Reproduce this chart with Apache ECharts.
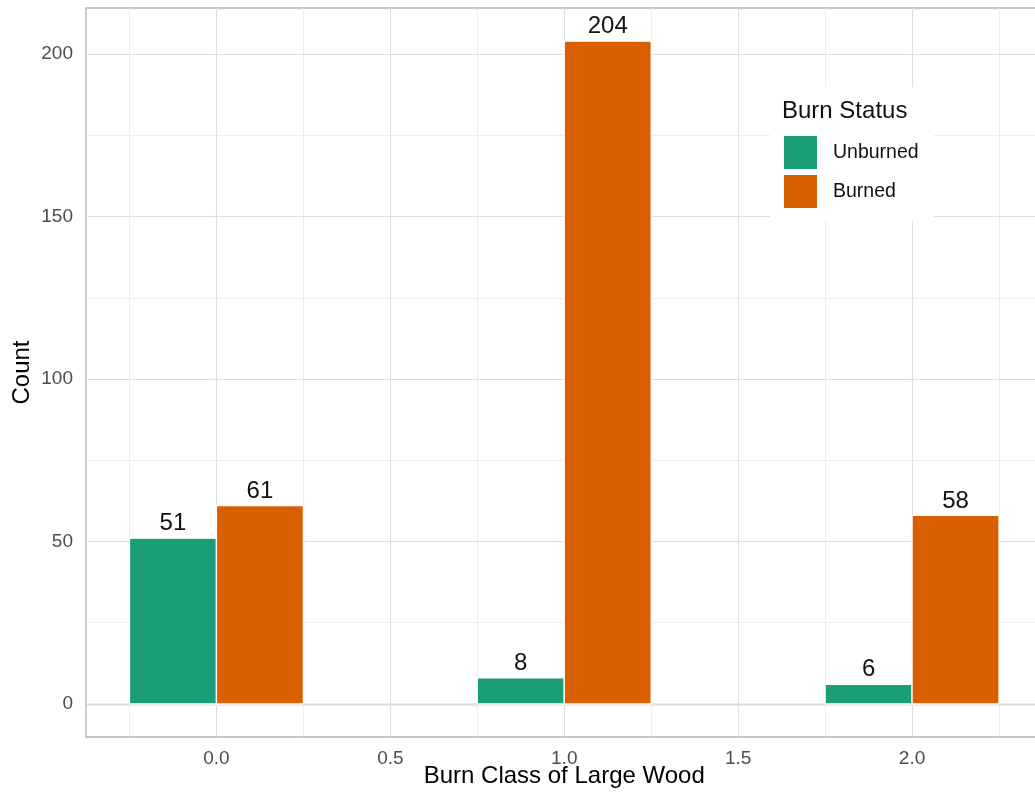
<!DOCTYPE html>
<html>
<head>
<meta charset="utf-8">
<script src="https://cdn.jsdelivr.net/npm/echarts@6/dist/echarts.min.js"></script>
<style>
  html, body { margin: 0; padding: 0; background: #fff; }
  #chart { width: 1035px; height: 798px; }
</style>
</head>
<body>
<div id="chart"></div>
<script>
// ---- data ----
const burnClass = [0, 1, 2];
const unburned = [51, 8, 6];
const burned = [61, 204, 58];
const seriesNames = ['Unburned', 'Burned'];
const xTickValues = [0, 0.5, 1, 1.5, 2];
const xMinorValues = [-0.25, 0.25, 0.75, 1.25, 1.75, 2.25];
const yTickValues = [0, 50, 100, 150, 200];
const yMinorValues = [25, 75, 125, 175];

const FONT = "'Liberation Sans', Arial, Helvetica, sans-serif";
const colors = ['#1B9E77', '#D95F02'];
const barW = 0.25;

const chart = echarts.init(document.getElementById('chart'), null, { renderer: 'canvas' });

function barSeries(name, values, offset, color) {
  return {
    name: name,
    type: 'custom',
    z: 10,
    itemStyle: { color: color },
    data: burnClass.map((x, i) => [x, values[i]]),
    renderItem: function (params, api) {
      const x = api.value(0), v = api.value(1);
      const p0 = api.coord([x + offset - barW / 2, v]);
      const p1 = api.coord([x + offset + barW / 2, 0]);
      return {
        type: 'group',
        children: [
          {
            type: 'rect',
            shape: { x: p0[0], y: p0[1], width: p1[0] - p0[0], height: p1[1] - p0[1] },
            style: { fill: color, stroke: '#ffffff', lineWidth: 1.3 }
          },
          {
            type: 'text',
            style: {
              text: String(v),
              x: (p0[0] + p1[0]) / 2,
              y: p0[1] - 14.5,
              textAlign: 'center',
              textVerticalAlign: 'middle',
              fill: '#111111',
              font: '24px ' + FONT
            }
          }
        ]
      };
    }
  };
}

const gridLines = []
  .concat(xTickValues.map(v => ({ xAxis: v, lineStyle: { color: '#dedede', width: 1.1, type: 'solid' } })))
  .concat(xMinorValues.map(v => ({ xAxis: v, lineStyle: { color: '#e9e9e9', width: 0.8, type: 'solid' } })))
  .concat(yTickValues.map(v => ({ yAxis: v, lineStyle: { color: '#dedede', width: 1.1, type: 'solid' } })))
  .concat(yMinorValues.map(v => ({ yAxis: v, lineStyle: { color: '#e9e9e9', width: 0.8, type: 'solid' } })));

const option = {
  animation: false,
  backgroundColor: '#ffffff',
  textStyle: { fontFamily: FONT },
  grid: {
    left: 86, top: 8, right: -7.5, bottom: 61,
    show: true, borderColor: '#b3b3b3', borderWidth: 1.3,
    backgroundColor: 'transparent',
    containLabel: false,
    outerBoundsMode: 'none'
  },
  xAxis: {
    type: 'value',
    min: -0.375, max: 2.375,
    name: 'Burn Class of Large Wood',
    nameLocation: 'middle',
    nameGap: 27,
    nameMoveOverlap: false,
    nameTextStyle: { fontSize: 24, color: '#000000', fontFamily: FONT },
    axisLine: { show: true, lineStyle: { color: '#b3b3b3', width: 1.3 } },
    axisTick: { show: true, length: 6, customValues: xTickValues, lineStyle: { color: '#b3b3b3', width: 1.1 } },
    axisLabel: {
      customValues: xTickValues,
      formatter: v => Number(v).toFixed(1),
      fontSize: 19, color: '#4d4d4d', margin: 12, fontFamily: FONT
    },
    splitLine: { show: false },
    minorSplitLine: { show: false }
  },
  yAxis: {
    type: 'value',
    min: -10.2, max: 214.2,
    name: 'Count',
    nameLocation: 'middle',
    nameGap: 52,
    nameMoveOverlap: false,
    nameTextStyle: { fontSize: 24, color: '#000000', fontFamily: FONT },
    axisLine: { show: false },
    axisTick: { show: true, length: 6, customValues: yTickValues, lineStyle: { color: '#b3b3b3', width: 1.1 } },
    axisLabel: {
      customValues: yTickValues,
      fontSize: 19, color: '#4d4d4d', margin: 13, fontFamily: FONT
    },
    splitLine: { show: false },
    minorSplitLine: { show: false }
  },
  legend: {
    data: seriesNames,
    orient: 'vertical',
    left: 770, top: 87,
    padding: [49, 15, 13, 14],
    backgroundColor: '#ffffff',
    itemWidth: 33, itemHeight: 33, itemGap: 6,
    icon: 'rect',
    z: 20,
    textStyle: { fontSize: 19.5, color: '#111111', fontFamily: FONT, padding: [0, 0, 0, 11] },
    selectedMode: false
  },
  graphic: [
    {
      type: 'text',
      left: 782, top: 99,
      z: 100,
      style: { text: 'Burn Status', font: '24px ' + FONT, fill: '#111111' }
    }
  ],
  series: [
    {
      name: 'gridlines',
      type: 'line',
      data: [],
      z: 1,
      silent: true,
      markLine: {
        z: 1,
        silent: true,
        symbol: ['none', 'none'],
        label: { show: false },
        emphasis: { disabled: true },
        animation: false,
        data: gridLines
      }
    },
    barSeries(seriesNames[0], unburned, -barW / 2, colors[0]),
    barSeries(seriesNames[1], burned, barW / 2, colors[1])
  ]
};

chart.setOption(option);
</script>
</body>
</html>
